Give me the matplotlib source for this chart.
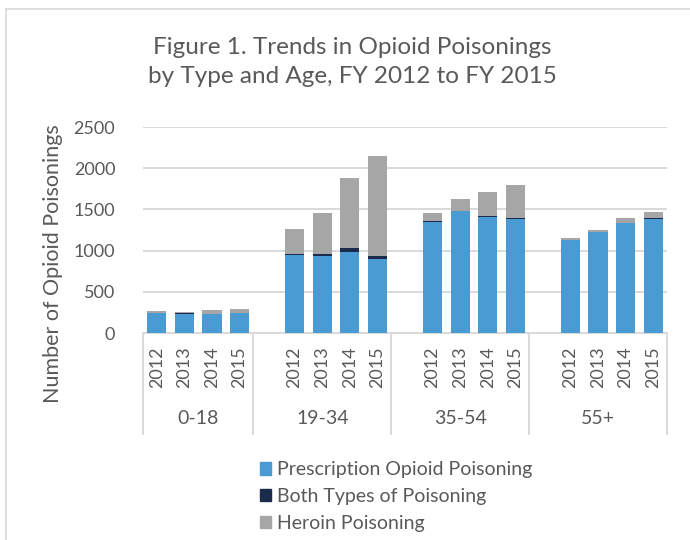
import matplotlib
matplotlib.use('Agg')
import matplotlib.pyplot as plt
from matplotlib.lines import Line2D
from matplotlib.patches import Patch

# data
age_groups = ['0-18', '19-34', '35-54', '55+']
years = ['2012', '2013', '2014', '2015']
prescription = [240, 235, 230, 240,
                945, 933, 985, 900,
                1350, 1475, 1405, 1380,
                1130, 1220, 1335, 1385]
both_types = [2, 3, 2, 2,
              12, 22, 45, 37,
              5, 5, 15, 18,
              3, 4, 5, 5]
heroin = [23, 18, 45, 45,
          305, 505, 850, 1210,
          105, 145, 290, 400,
          15, 25, 55, 78]

blue = '#4a9bd3'
navy = '#1b2b4b'
gray = '#a6a6a6'
grid_c = '#d9d9d9'
text_c = '#595959'

plt.rcParams['font.family'] = ['Lato', 'DejaVu Sans']

fig = plt.figure(figsize=(6.9, 5.4), dpi=100)
W, H = 690, 540
ax = fig.add_axes([143 / W, 1 - 333 / H, (667 - 143) / W, (333 - 127) / H])

# each age group after the first is preceded by an empty category slot
xpos = []
for g in range(len(age_groups)):
    for y in range(len(years)):
        xpos.append(g * 5 + y)

bottom2 = [p for p in prescription]
bottom3 = [p + b for p, b in zip(prescription, both_types)]
ax.bar(xpos, prescription, width=0.7, color=blue, zorder=3)
ax.bar(xpos, both_types, width=0.7, bottom=bottom2, color=navy, zorder=3)
ax.bar(xpos, heroin, width=0.7, bottom=bottom3, color=gray, zorder=3)

ax.set_xlim(-0.5, 18.5)
ax.set_ylim(0, 2500)
ax.set_yticks([0, 500, 1000, 1500, 2000, 2500])
ax.yaxis.grid(True, color=grid_c, linewidth=1.4, zorder=0)
ax.tick_params(axis='y', length=0, labelsize=13, labelcolor=text_c, pad=20)
ax.set_xticks([])
for s in ['top', 'right', 'left']:
    ax.spines[s].set_visible(False)
ax.spines['bottom'].set_color(grid_c)
ax.spines['bottom'].set_linewidth(1.4)

# two-level category labels
tr = ax.get_xaxis_transform()
for x, i in zip(xpos, range(len(xpos))):
    ax.text(x, -0.065, years[i % 4], rotation=90, ha='center', va='top',
            fontsize=13, color=text_c, transform=tr)
edges = [-0.5, 3.5, 8.5, 13.5, 18.5]
for e in edges:
    ax.add_line(Line2D([e, e], [0, -0.49], transform=tr, color=grid_c,
                       linewidth=1.4, clip_on=False))
for g, name in enumerate(age_groups):
    center = (edges[g] + edges[g + 1]) / 2
    ax.text(center, -0.415, name, ha='center', va='center', fontsize=14,
            color=text_c, transform=tr)

fig.text(53 / W, 1 - 264 / H, 'Number of Opioid Poisonings', rotation=90,
         ha='center', va='center', fontsize=15.5, color=text_c)

fig.text(352 / W, 1 - 62 / H, 'Figure 1. Trends in Opioid Poisonings\nby Type and Age, FY 2012 to FY 2015',
         ha='center', va='center', fontsize=17.5, color=text_c, linespacing=1.42)

handles = [Patch(color=blue), Patch(color=navy), Patch(color=gray)]
labels = ['Prescription Opioid Poisoning', 'Both Types of Poisoning', 'Heroin Poisoning']
fig.legend(handles, labels, loc='upper left', bbox_to_anchor=(242 / W, 1 - 444 / H),
           frameon=False, fontsize=14, handlelength=0.6, handleheight=0.6,
           handletextpad=0.3, labelspacing=0.49, labelcolor=text_c)

# chart-area frame (left and top edges visible)
fig.add_artist(Line2D([6 / W, 6 / W], [0, 1 - 9 / H], color=grid_c, linewidth=1.2,
                      transform=fig.transFigure))
fig.add_artist(Line2D([6 / W, 1], [1 - 9 / H, 1 - 9 / H], color=grid_c, linewidth=1.2,
                      transform=fig.transFigure))

fig.savefig('out.png', dpi=100)
